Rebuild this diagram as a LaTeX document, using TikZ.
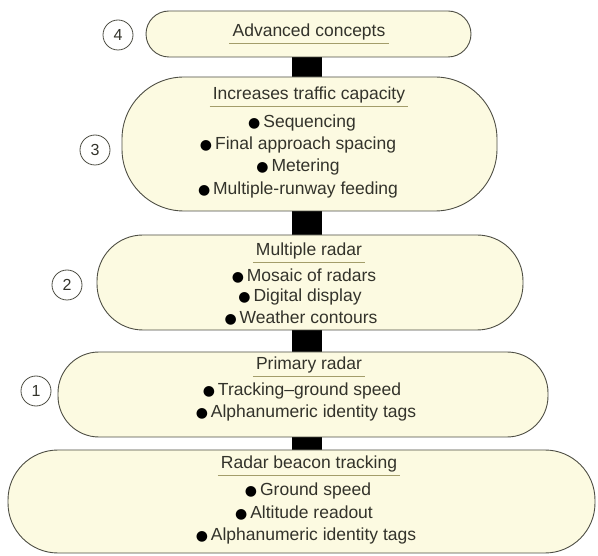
\documentclass[tikz,border=0pt]{standalone}
\usepackage{fontspec}
\setmainfont{Liberation Sans}
\newfontfamily\symfont{DejaVu Sans}
\usetikzlibrary{backgrounds}
\definecolor{cream}{HTML}{FCFAE1}
\definecolor{edge}{HTML}{4E4E44}
\definecolor{ink}{HTML}{33332B}
\definecolor{rule}{HTML}{A39D6A}
\newcommand{\blt}{{\symfont\fontsize{14}{14}\selectfont\color{black}●}\,}
\tikzset{
  stage/.style={draw=edge, line width=0.9pt, fill=cream, inner sep=0pt},
  level/.style={draw=edge, line width=0.8pt, circle, minimum size=30pt, inner sep=0pt,
    text=ink, font=\fontsize{16}{16}\selectfont},
  heading/.style={text=ink, font=\fontsize{17.5}{17.5}\selectfont, inner sep=1pt},
  item/.style={text=ink, font=\fontsize{17.5}{17.5}\selectfont, inner sep=0pt},
  bar/.style={line width=30pt, black}
}
\begin{document}
\begin{tikzpicture}[x=1pt, y=-1pt]
\useasboundingbox (0,0) rectangle (598,556);

% stage outlines
\node[stage, minimum width=325pt, minimum height=46pt, rounded corners=23pt] (b4) at (308.5,34) {};
\node[stage, minimum width=375pt, minimum height=134pt, rounded corners=62pt] (b3) at (309.5,144) {};
\node[stage, minimum width=426pt, minimum height=95pt, rounded corners=46pt] (b2) at (310,282.5) {};
\node[stage, minimum width=490pt, minimum height=85pt, rounded corners=41pt] (b1) at (303,394.5) {};
\node[stage, minimum width=587pt, minimum height=103pt, rounded corners=50pt] (b0) at (301.5,501.5) {};

% white page and black spine joining the stages
\begin{scope}[on background layer]
  \fill[white] (0,0) rectangle (598,556);
  \draw[bar] (307,0 |- b4.south) -- (307,0 |- b3.north);
  \draw[bar] (307,0 |- b3.south) -- (307,0 |- b2.north);
  \draw[bar] (307,0 |- b2.south) -- (307,0 |- b1.north);
  \draw[bar] (307,0 |- b1.south) -- (307,0 |- b0.north);
\end{scope}

% level numbers
\node[level] (c4) at (118,35) {4};
\node[level] (c3) at (95,150) {3};
\node[level] (c2) at (67,285) {2};
\node[level] (c1) at (36,391) {1};

% headings with rules beneath
\node[heading] (h4) at (309,32) {Advanced concepts};
\node[heading] (h3) at (309,95) {Increases traffic capacity};
\node[heading] (h2) at (309,251) {Multiple radar};
\node[heading] (h1) at (309,365) {Primary radar};
\node[heading] (h0) at (309,464) {Radar beacon tracking};
\foreach \h in {h4,h3,h2,h1,h0}
  \draw[rule, line width=0.8pt] ([xshift=-2pt,yshift=-2pt]\h.south west) -- ([xshift=2pt,yshift=-2pt]\h.south east);

% stage 3 items
\node[item] (s3a) at (302,123) {\blt Sequencing};
\node[item] (s3b) at (298,145) {\blt Final approach spacing};
\node[item] (s3c) at (298,167) {\blt Metering};
\node[item] (s3d) at (298,190) {\blt Multiple-runway feeding};

% stage 2 items
\node[item] (s2a) at (304,276) {\blt Mosaic of radars};
\node[item] (s2b) at (300,297) {\blt Digital display};
\node[item] (s2c) at (301,318) {\blt Weather contours};

% stage 1 items
\node[item] (s1a) at (302,391) {\blt Tracking–ground speed};
\node[item] (s1b) at (306,413) {\blt Alphanumeric identity tags};

% base stage items
\node[item] (s0a) at (308,491) {\blt Ground speed};
\node[item] (s0b) at (304,513) {\blt Altitude readout};
\node[item] (s0c) at (306,536) {\blt Alphanumeric identity tags};
\end{tikzpicture}
\end{document}
